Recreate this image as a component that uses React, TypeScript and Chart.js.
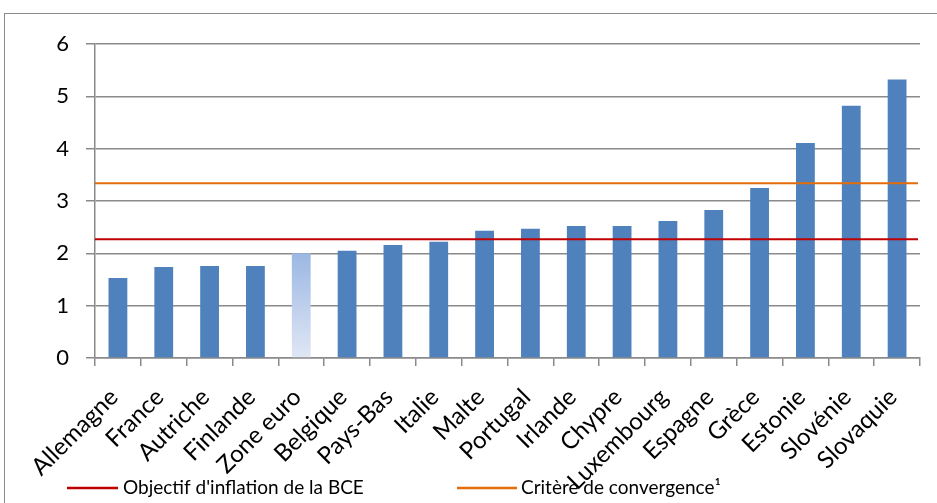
import React, { useEffect, useRef } from "react";
import { Chart, registerables } from "chart.js";

Chart.register(...registerables);

const categories = [
  "Allemagne", "France", "Autriche", "Finlande", "Zone euro", "Belgique",
  "Pays-Bas", "Italie", "Malte", "Portugal", "Irlande", "Chypre",
  "Luxembourg", "Espagne", "Grèce", "Estonie", "Slovénie", "Slovaquie",
];
const inflation = [
  1.53, 1.74, 1.76, 1.76, 2.0, 2.05, 2.16, 2.22, 2.43, 2.47, 2.52, 2.52,
  2.62, 2.83, 3.25, 4.11, 4.82, 5.32,
];
const highlightedCategory = "Zone euro";
const yMin = 0;
const yMax = 6;
const yStep = 1;
const ecbTarget = 2.27;
const convergenceCriterion = 3.34;
const referenceLabels = ["Objectif d'inflation de la BCE", "Critère de convergence¹"];
const referenceValues = [ecbTarget, convergenceCriterion];
const referenceColors = ["#C00000", "#E46C0A"];

const FONT = "Lato, 'Open Sans', sans-serif";

const refLinesPlugin = {
  id: "refLines",
  afterDatasetsDraw(chart: any) {
    const { ctx, chartArea, scales } = chart;
    ctx.save();
    referenceValues.forEach((v, i) => {
      const y = scales.y.getPixelForValue(v);
      ctx.strokeStyle = referenceColors[i];
      ctx.lineWidth = 2;
      ctx.beginPath();
      ctx.moveTo(chartArea.left, y);
      ctx.lineTo(chartArea.right - 2, y);
      ctx.stroke();
    });
    ctx.restore();
  },
};

const legendPlugin = {
  id: "customLegend",
  afterDraw(chart: any) {
    const { ctx } = chart;
    const y = 488;
    const items = [
      { x1: 67, x2: 118, tx: 123 },
      { x1: 457, x2: 517, tx: 521 },
    ];
    ctx.save();
    ctx.font = `19px ${FONT}`;
    ctx.textBaseline = "middle";
    ctx.textAlign = "left";
    ctx.fillStyle = "#000";
    items.forEach((it, i) => {
      ctx.strokeStyle = referenceColors[i];
      ctx.lineWidth = 2.5;
      ctx.beginPath();
      ctx.moveTo(it.x1, y);
      ctx.lineTo(it.x2, y);
      ctx.stroke();
      ctx.fillText(referenceLabels[i], it.tx, y);
    });
    ctx.restore();
  },
};

export default function App() {
  const ref = useRef<HTMLCanvasElement | null>(null);

  useEffect(() => {
    if (!ref.current) return;
    const chart = new Chart(ref.current, {
      type: "bar",
      data: {
        labels: categories,
        datasets: [
          {
            label: "Inflation",
            data: inflation,
            backgroundColor: (c: any) => {
              const chart = c.chart;
              if (chart.data.labels[c.dataIndex] !== highlightedCategory) return "#4F81BD";
              const ys = chart.scales && chart.scales.y;
              if (!ys || !chart.chartArea) return "#B9CCEB";
              const top = ys.getPixelForValue(inflation[c.dataIndex]);
              const bottom = ys.getPixelForValue(0);
              const g = chart.ctx.createLinearGradient(0, top, 0, bottom);
              g.addColorStop(0, "#9BB7E3");
              g.addColorStop(1, "#E0E7F5");
              return g;
            },
            borderWidth: 0,
            categoryPercentage: 1,
            barPercentage: 0.41,
          },
        ],
      },
      options: {
        animation: false,
        responsive: true,
        maintainAspectRatio: false,
        layout: { padding: { top: 44, right: 17, left: 0, bottom: 0 } },
        plugins: {
          legend: { display: false },
          tooltip: { enabled: false },
        },
        scales: {
          x: {
            afterFit: (s: any) => { s.height = 145; },
            grid: {
              display: true,
              drawOnChartArea: false,
              drawTicks: true,
              tickLength: 8,
              color: "#8a8a8a",
              lineWidth: 1.5,
              offset: true,
            },
            border: { display: true, color: "#8a8a8a", width: 1.5 },
            ticks: {
              autoSkip: false,
              maxRotation: 45,
              minRotation: 45,
              padding: 17,
              labelOffset: -4,
              color: "#000",
              font: { family: FONT, size: 24 },
            },
          },
          y: {
            min: yMin,
            max: yMax,
            afterFit: (s: any) => { s.width = 95; },
            grid: {
              color: "#8a8a8a",
              lineWidth: 1.5,
              tickLength: 9,
            },
            border: { display: true, color: "#8a8a8a", width: 1.5 },
            ticks: {
              stepSize: yStep,
              padding: 17,
              color: "#000",
              font: { family: FONT, size: 22 },
            },
          },
        },
      },
      plugins: [refLinesPlugin, legendPlugin],
    });
    return () => chart.destroy();
  }, []);

  return (
    <div style={{ position: "fixed", left: 0, top: 0, width: 937, height: 503, background: "#fff" }}>
      <div
        style={{
          position: "absolute",
          left: 4,
          top: 13,
          width: 960,
          height: 520,
          border: "1.5px solid #8a8a8a",
          boxSizing: "border-box",
        }}
      />
      <div style={{ position: "absolute", left: 0, top: 0, width: 937, height: 503 }}>
        <canvas ref={ref} />
      </div>
    </div>
  );
}
